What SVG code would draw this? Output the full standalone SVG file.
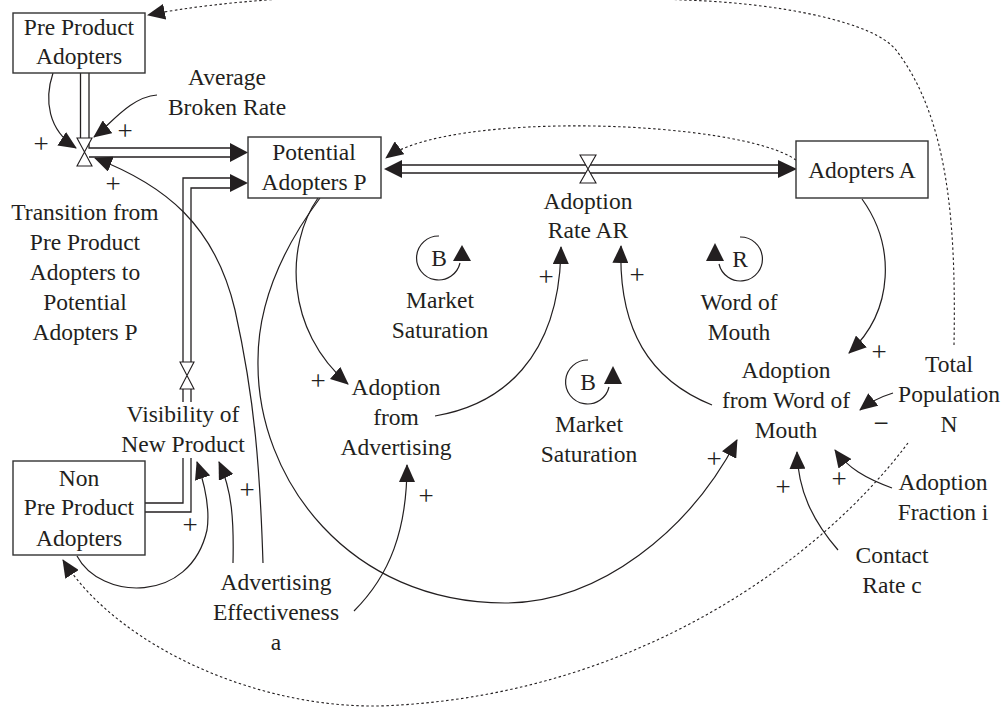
<svg xmlns="http://www.w3.org/2000/svg" width="1004" height="708" viewBox="0 0 1004 708">
<style>
text{font-family:"Liberation Serif","Times New Roman",serif;font-size:23.5px;fill:#231f20;text-anchor:middle}
.box{fill:#fff;stroke:#333;stroke-width:1.4}
.ln{fill:none;stroke:#231f20;stroke-width:1.2}
.pipe{fill:none;stroke:#231f20;stroke-width:1.3}
.dot{fill:none;stroke:#231f20;stroke-width:1.1;stroke-dasharray:2.5,2.5}
.valve{fill:#fff;stroke:#231f20;stroke-width:1.1}
.head{fill:#231f20;stroke:none}
.sg{font-size:27px}
</style>
<defs>
<marker id="ah" viewBox="0 0 18 16" refX="17" refY="8" markerWidth="18" markerHeight="16" orient="auto" markerUnits="userSpaceOnUse"><path d="M0,0 L18,8 L0,16 z" fill="#231f20"/></marker>
</defs>
<rect width="1004" height="708" fill="#fff"/>

<g id="connectors">
<!-- flow pipes -->
<path class="pipe" d="M80.5,73 V140 M89,73 V148 H232 M89,157 H232"/>
<polygon class="head" points="230,143 248,152.5 230,162"/>
<polygon class="valve" points="77,138 92,138 84.5,152 92,166 77,166 84.5,152"/>

<path class="pipe" d="M145,503 H183 V458 M183,402 V389 M183,362 V178 H232"/>
<path class="pipe" d="M145,512 H191 V458 M191,402 V389 M191,362 V188 H232"/>
<polygon class="head" points="230,174 248,183 230,192"/>
<polygon class="valve" points="180,362 194,362 187,375.5 194,389 180,389 187,375.5"/>

<path class="pipe" d="M400,165 H780 M400,173 H780"/>
<polygon class="head" points="402,160 384,169 402,178"/>
<polygon class="head" points="778,160 797,169 778,178"/>
<polygon class="valve" points="580,155 596,155 588,169 596,183 580,183 588,169"/>

<!-- causal links -->
<path class="ln" marker-end="url(#ah)" d="M53,73 C44,100 48,130 76,148"/>
<path class="ln" marker-end="url(#ah)" d="M157,95 C130,97 110,125 94,137"/>
<path class="ln" marker-end="url(#ah)" d="M263,563 C260,470 255,400 235,310 C215,225 165,185 95,158"/>
<path class="ln" marker-end="url(#ah)" d="M318,198 C285,245 285,330 348,384"/>
<path class="ln" marker-end="url(#ah)" d="M320,198 C285,245 258,300 258,360 C256,480 350,603 505,603 C600,603 690,530 737,440"/>
<path class="ln" marker-end="url(#ah)" d="M435,416 C500,405 560,360 561,247"/>
<path class="ln" marker-end="url(#ah)" d="M712,405 C650,380 618,330 621,246"/>
<path class="ln" marker-end="url(#ah)" d="M862,199 C895,245 895,310 849,353"/>
<path class="ln" marker-end="url(#ah)" d="M893,393 C880,397 870,402 860,410"/>
<path class="ln" marker-end="url(#ah)" d="M892,488 C865,478 848,468 835,450"/>
<path class="ln" marker-end="url(#ah)" d="M838,550 C812,520 798,490 797,452"/>
<path class="ln" marker-end="url(#ah)" d="M354,611 C390,575 407,530 407,465"/>
<path class="ln" marker-end="url(#ah)" d="M77,556 C100,600 190,605 207,530 C210,510 205,485 197,462"/>
<path class="ln" marker-end="url(#ah)" d="M233,563 C234,520 232,490 219,462"/>

<!-- dotted information links -->
<path class="dot" marker-end="url(#ah)" d="M796,160 C740,120 450,110 386,158"/>
<path class="dot" marker-end="url(#ah)" d="M954,345 C956,230 950,120 896,50 C874,22 780,3 684,0 C560,-6 300,-15 148,15"/>
<path class="dot" marker-end="url(#ah)" d="M908,443 C820,560 640,690 400,705 C270,715 120,650 63,560"/>

<!-- loop markers -->
<path class="ln" d="M439,236 A22,22 0 1 0 460,263"/>
<polygon class="head" points="462,245 471,261 453,261"/>
<path class="ln" d="M588,360 A22,22 0 1 0 609,387"/>
<polygon class="head" points="613,366 622,384 604,384"/>
<path class="ln" d="M740,237 A22,22 0 1 1 719,264"/>
<polygon class="head" points="715,243 724,261 706,261"/>

<!-- polarity signs -->
<g class="signs">
<text class="sg" x="41" y="153">+</text>
<text class="sg" x="125" y="140">+</text>
<text class="sg" x="113" y="193">+</text>
<text class="sg" x="318" y="390">+</text>
<text class="sg" x="546" y="286">+</text>
<text class="sg" x="637" y="284">+</text>
<text class="sg" x="879" y="361">+</text>
<text class="sg" x="714" y="468">+</text>
<text class="sg" x="783" y="496">+</text>
<text class="sg" x="839" y="488">+</text>
<text class="sg" x="426" y="505">+</text>
<text class="sg" x="190" y="534">+</text>
<text class="sg" x="247" y="499">+</text>
<text class="sg" x="881" y="432">−</text>
</g>
</g>

<g id="pre-product-adopters">
<rect class="box" x="13" y="13" width="132" height="60"/>
<text x="79" y="35">Pre Product</text>
<text x="79" y="64">Adopters</text>
</g>

<g id="potential-adopters">
<rect class="box" x="248" y="137" width="133" height="61"/>
<text x="314" y="160">Potential</text>
<text x="314" y="190">Adopters P</text>
</g>

<g id="adopters-a">
<rect class="box" x="796" y="141" width="132" height="57"/>
<text x="862" y="178">Adopters A</text>
</g>

<g id="non-pre-product-adopters">
<rect class="box" x="13" y="461" width="132" height="94"/>
<text x="79" y="486">Non</text>
<text x="79" y="515">Pre Product</text>
<text x="79" y="546">Adopters</text>
</g>

<g id="average-broken-rate">
<text x="227" y="85">Average</text>
<text x="227" y="115">Broken Rate</text>
</g>

<g id="transition">
<text x="85" y="220">Transition from</text>
<text x="85" y="250">Pre Product</text>
<text x="85" y="280">Adopters to</text>
<text x="85" y="310">Potential</text>
<text x="85" y="340">Adopters P</text>
</g>

<g id="visibility">
<text x="183" y="422">Visibility of</text>
<text x="183" y="452">New Product</text>
</g>

<g id="adoption-rate">
<text x="588" y="209">Adoption</text>
<text x="588" y="238">Rate AR</text>
</g>

<g id="loop-b1">
<text x="439" y="266">B</text>
<text x="440" y="308">Market</text>
<text x="440" y="338">Saturation</text>
</g>

<g id="loop-b2">
<text x="588" y="390">B</text>
<text x="589" y="432">Market</text>
<text x="589" y="462">Saturation</text>
</g>

<g id="loop-r">
<text x="740" y="267">R</text>
<text x="739" y="310">Word of</text>
<text x="739" y="340">Mouth</text>
</g>

<g id="adoption-from-advertising">
<text x="396" y="395">Adoption</text>
<text x="396" y="425">from</text>
<text x="396" y="455">Advertising</text>
</g>

<g id="adoption-from-wom">
<text x="786" y="378">Adoption</text>
<text x="786" y="408">from Word of</text>
<text x="786" y="438">Mouth</text>
</g>

<g id="total-population">
<text x="949" y="372">Total</text>
<text x="949" y="402">Population</text>
<text x="949" y="432">N</text>
</g>

<g id="adoption-fraction">
<text x="943" y="490">Adoption</text>
<text x="943" y="520">Fraction i</text>
</g>

<g id="contact-rate">
<text x="892" y="563">Contact</text>
<text x="892" y="593">Rate c</text>
</g>

<g id="advertising-effectiveness">
<text x="276" y="590">Advertising</text>
<text x="276" y="620">Effectiveness</text>
<text x="276" y="650">a</text>
</g>
</svg>
